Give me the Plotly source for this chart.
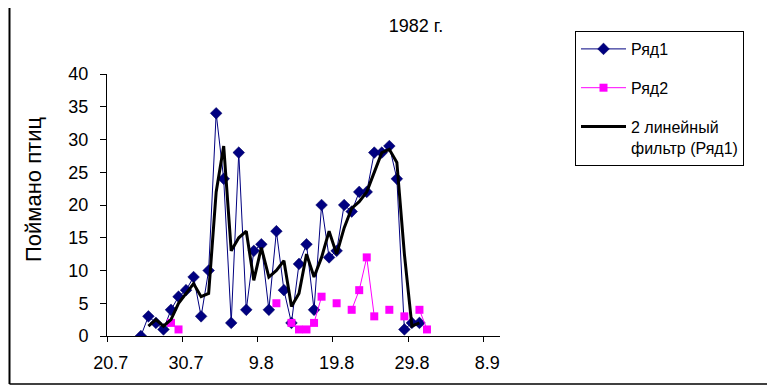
import plotly.graph_objects as go
from datetime import datetime, timedelta

# ---------------- data ----------------
dates = ["24.7", "25.7", "26.7", "27.7", "28.7", "29.7", "30.7", "31.7",
         "1.8", "2.8", "3.8", "4.8", "5.8", "6.8", "7.8", "8.8",
         "9.8", "10.8", "11.8", "12.8", "13.8", "14.8", "15.8", "16.8",
         "17.8", "18.8", "19.8", "20.8", "21.8", "22.8", "23.8", "24.8",
         "25.8", "26.8", "27.8", "28.8", "29.8", "30.8", "31.8"]

ryad1 = [0, 3, 2, 1, 4, 6, 7, 9,
         3, 10, 34, 24, 2, 28, 4, 13,
         14, 4, 16, 7, 2, 11, 14, 4,
         20, 12, 13, 20, 19, 22, 22, 28,
         28, 29, 24, 1, 2, 2, None]

ryad2 = [None, None, None, None, 2, 1, None, None,
         None, None, None, None, None, None, None, None,
         None, None, 5, None, 2, 1, 1, 2,
         6, None, 5, None, 4, 7, 12, 3,
         None, 4, None, 3, None, 4, 1]

# 2-point linear filter of Ряд1 as drawn
ma2 = [None, 1.5, 2.5, 1.5, 2.5, 5, 6.5, 8,
       6, 6.5, 22, 29, 13, 15, 16, 8.5,
       13.5, 9, 10, 11.5, 4.5, 6.5, 12.5, 9,
       12, 16, 12.5, 16.5, 19.5, 20.5, 22, 25,
       28, 28.5, 26.5, 12.5, 1.5, 2, None]

tick_labels = ["20.7", "30.7", "9.8", "19.8", "29.8", "8.9"]
y_ticks = [0, 5, 10, 15, 20, 25, 30, 35, 40]

title_text = "1982 г."
y_title = "Поймано птиц"
names = ["Ряд1", "Ряд2", "2 линейный<br>фильтр (Ряд1)"]

# ---------------- helpers ----------------
def to_date(s):
    d, m = s.split(".")
    return datetime(1982, int(m), int(d))

x = [to_date(s) for s in dates]
tick_dates = [to_date(s) for s in tick_labels]
half = timedelta(hours=12)

OFF = 8                      # page body margin
PAGE_W, PAGE_H = 775, 389
W, H = PAGE_W - OFF, PAGE_H - OFF
# plot area in page pixels: x 107..500, y 74..336
L = 107 - OFF
T = 74 - OFF
R = W - (500 - OFF)
B = H - (336 - OFF)
pw, ph = W - L - R, H - T - B

def px(xp):   # page pixel -> paper
    return (xp - OFF - L) / pw

def py(yp):
    return (H - B - (yp - OFF)) / ph

FONT = "Liberation Sans, Arial, sans-serif"

fig = go.Figure()
fig.add_trace(go.Scatter(
    x=x, y=ryad1, name=names[0], mode="lines+markers",
    line=dict(color="#000080", width=1),
    marker=dict(symbol="diamond", size=9, color="#000080",
                line=dict(color="#000060", width=0.5)),
    legendgroup="a", connectgaps=False))
fig.add_trace(go.Scatter(
    x=x, y=ryad2, name=names[1], mode="lines+markers",
    line=dict(color="#FF00FF", width=1),
    marker=dict(symbol="square", size=8, color="#FF00FF"),
    legendgroup="b", connectgaps=False))
fig.add_trace(go.Scatter(
    x=x, y=ma2, name=names[2], mode="lines",
    line=dict(color="black", width=3),
    legendgroup="c", connectgaps=False))

start = to_date("20.7") - half
end = to_date("20.7") + timedelta(days=51.7)

fig.update_layout(
    width=W, height=H,
    margin=dict(l=L, r=R, t=T, b=B),
    paper_bgcolor="white", plot_bgcolor="white",
    font=dict(family=FONT, color="black"),
    title=dict(text=title_text, x=(416 - OFF) / W, xref="container", xanchor="center",
               y=1 - (26 - OFF) / H, yref="container", yanchor="middle",
               font=dict(size=18, family=FONT)),
    showlegend=True,
    legend=dict(x=px(575), y=py(31), xanchor="left", yanchor="top",
                bordercolor="black", borderwidth=1, bgcolor="white",
                font=dict(size=16, family=FONT), tracegroupgap=15,
                itemwidth=45, valign="top", traceorder="grouped"),
    xaxis=dict(
        type="date", range=[start, end],
        showgrid=False, zeroline=False,
        showline=True, linecolor="black", linewidth=1,
        tickmode="array", tickvals=tick_dates, ticktext=tick_labels,
        ticks="", ticklabelstandoff=10,
        tickfont=dict(size=18, family=FONT),
        minor=dict(tickmode="array", tickvals=[d - half for d in tick_dates],
                   ticks="outside", ticklen=5, tickcolor="black", tickwidth=1,
                   showgrid=False),
    ),
    yaxis=dict(
        range=[0, 40], showgrid=False, zeroline=False,
        showline=True, linecolor="black", linewidth=1,
        tickmode="array", tickvals=y_ticks,
        ticks="outside", ticklen=6, tickcolor="black",
        ticklabelstandoff=8,
        tickfont=dict(size=18, family=FONT),
    ),
    annotations=[dict(
        text=y_title, textangle=-90, xref="paper", yref="paper",
        x=px(33), y=py(190), xanchor="center", yanchor="middle",
        showarrow=False, font=dict(size=22, family=FONT))],
    shapes=[
        dict(type="line", xref="paper", yref="paper",
             x0=px(9.5), x1=px(9.5), y0=py(8), y1=py(384),
             line=dict(color="black", width=2)),
        dict(type="line", xref="paper", yref="paper",
             x0=px(9.5), x1=px(770), y0=py(384), y1=py(384),
             line=dict(color="black", width=1.5)),
        dict(type="line", xref="paper", yref="paper",
             x0=px(770), x1=px(770), y0=py(8), y1=py(384),
             line=dict(color="black", width=1.5)),
    ],
)

fig.write_html("out.html")
